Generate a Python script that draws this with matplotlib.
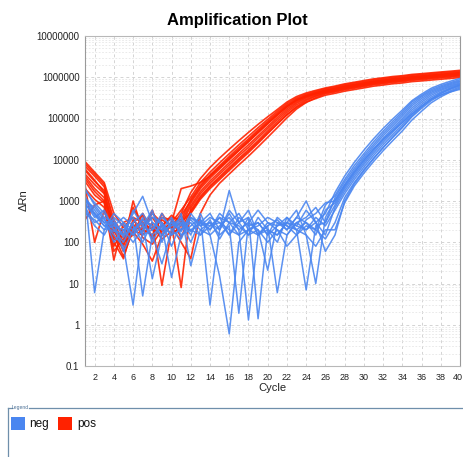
import matplotlib
matplotlib.use("Agg")
import matplotlib.pyplot as plt
from matplotlib.patches import Rectangle
from matplotlib.lines import Line2D
from matplotlib.ticker import FixedLocator, LogLocator, NullFormatter
from matplotlib.transforms import ScaledTranslation

plt.rcParams['font.family'] = ['Liberation Sans', 'DejaVu Sans']

cycles = list(range(1, 41))

# positive (red) curves, delta Rn per cycle 1..40
pos_01 = [9000, 5000, 2800, 500, 230, 400, 300, 200, 350, 250, 500, 1600, 3500, 6500, 11000, 18000, 29000, 46000, 72000, 110000, 165000, 250000, 340000, 415000, 480000, 550000, 610000, 690000, 755000, 830000, 910000, 970000, 1040000, 1090000, 1170000, 1220000, 1280000, 1340000, 1400000, 1470000]
pos_02 = [7000, 4000, 2200, 350, 150, 700, 250, 400, 180, 300, 600, 1250, 2800, 5000, 8400, 14000, 23000, 37000, 60000, 95000, 150000, 230000, 315000, 390000, 455000, 525000, 580000, 655000, 720000, 785000, 865000, 925000, 990000, 1040000, 1120000, 1160000, 1220000, 1280000, 1330000, 1400000]
pos_03 = [5500, 3000, 1800, 200, 60, 300, 450, 120, 250, 400, 350, 1100, 2400, 4300, 7200, 12000, 20000, 32000, 53000, 86000, 137000, 212000, 295000, 367000, 432000, 497000, 550000, 620000, 680000, 745000, 820000, 875000, 940000, 983000, 1060000, 1100000, 1155000, 1210000, 1265000, 1330000]
pos_04 = [4500, 2500, 1500, 150, 45, 200, 150, 300, 9, 200, 300, 900, 2000, 3600, 6000, 10000, 16600, 27000, 45000, 75000, 122000, 195000, 280000, 354000, 416000, 478000, 530000, 598000, 655000, 718000, 790000, 842000, 905000, 946000, 1020000, 1060000, 1113000, 1165000, 1217000, 1280000]
pos_05 = [4000, 2000, 1200, 120, 90, 1000, 200, 500, 300, 150, 250, 770, 1700, 3060, 5100, 8500, 14100, 23000, 38000, 64000, 106000, 172000, 252000, 330000, 400000, 460000, 510000, 575000, 630000, 690000, 760000, 810000, 870000, 910000, 980000, 1020000, 1070000, 1120000, 1170000, 1230000]
pos_06 = [3500, 1700, 1000, 37, 300, 400, 130, 90, 200, 300, 8, 680, 1500, 2700, 4500, 7500, 12500, 20000, 34000, 57000, 95000, 155000, 235000, 312000, 380000, 446000, 495000, 558000, 611000, 669000, 737000, 786000, 844000, 883000, 950000, 989000, 1038000, 1086000, 1135000, 1193000]
pos_07 = [3000, 1400, 900, 80, 200, 150, 350, 250, 120, 180, 200, 590, 1300, 2340, 3900, 6500, 10800, 17500, 29000, 50000, 84000, 140000, 215000, 290000, 360000, 428000, 474000, 535000, 586000, 642000, 707000, 753000, 809000, 846000, 911000, 949000, 995000, 1042000, 1088000, 1144000]
pos_08 = [2500, 100, 600, 100, 40, 250, 200, 150, 400, 350, 130, 500, 1100, 2000, 3300, 5500, 9100, 14900, 25000, 43000, 73000, 124000, 195000, 272000, 345000, 414000, 459000, 518000, 567000, 621000, 684000, 729000, 783000, 819000, 882000, 918000, 963000, 1008000, 1053000, 1107000]
pos_09 = [2000, 1100, 700, 60, 120, 180, 90, 35, 150, 250, 100, 40, 500, 1400, 2700, 4500, 7500, 12200, 20500, 35000, 60000, 104000, 170000, 245000, 320000, 396000, 439000, 495000, 542000, 593000, 654000, 697000, 748000, 783000, 843000, 877000, 920000, 963000, 1006000, 1058000]
pos_10 = [350, 800, 1000, 300, 100, 150, 500, 200, 250, 450, 300, 540, 1200, 2200, 3600, 6000, 10000, 16000, 27000, 45000, 75000, 122000, 185000, 250000, 305000, 368000, 408000, 460000, 504000, 552000, 608000, 648000, 696000, 728000, 784000, 816000, 856000, 896000, 936000, 984000]
pos_11 = [8000, 4500, 2500, 250, 80, 350, 180, 600, 150, 300, 2000, 2300, 2800, 4000, 6500, 10500, 17000, 28000, 46000, 75000, 120000, 190000, 270000, 345000, 408000, 470000, 520000, 587000, 643000, 704000, 775000, 826000, 887000, 928000, 1000000, 1040000, 1091000, 1142000, 1193000, 1255000]
pos_12 = [6000, 3200, 1600, 180, 130, 250, 300, 130, 500, 220, 450, 1000, 2200, 4000, 6600, 11000, 18000, 29500, 49000, 80000, 128000, 200000, 280000, 345000, 405000, 462000, 515000, 580000, 632000, 695000, 762000, 815000, 872000, 915000, 985000, 1025000, 1075000, 1125000, 1175000, 1240000]

# negative (blue) curves, delta Rn per cycle 1..40
neg_01 = [2000, 800, 400, 300, 150, 500, 1300, 300, 200, 250, 400, 180, 300, 500, 200, 1800, 300, 150, 400, 200, 150, 300, 250, 600, 300, 500, 1600, 4000, 8600, 17000, 32000, 57000, 97000, 160000, 270000, 390000, 540000, 670000, 800000, 940000]
neg_02 = [1500, 6, 200, 500, 300, 150, 250, 600, 100, 350, 200, 300, 150, 250, 400, 300, 500, 200, 150, 250, 350, 200, 400, 300, 200, 800, 1350, 3300, 7200, 14000, 27000, 49000, 85000, 143000, 250000, 360000, 500000, 620000, 740000, 870000]
neg_03 = [1200, 600, 300, 150, 80, 3, 200, 400, 300, 150, 500, 27, 200, 300, 150, 250, 1.9, 300, 200, 100, 200, 150, 300, 400, 700, 300, 1200, 2900, 6200, 12300, 23400, 43000, 75000, 128000, 225000, 335000, 465000, 580000, 700000, 815000]
neg_04 = [900, 400, 600, 200, 100, 300, 5, 150, 250, 14, 150, 250, 400, 3, 200, 500, 200, 1.3, 150, 300, 250, 400, 200, 150, 10, 400, 1050, 2500, 5500, 10900, 20700, 38000, 66000, 114000, 203000, 305000, 432000, 545000, 660000, 775000]
neg_05 = [800, 500, 250, 300, 60, 200, 300, 13, 150, 300, 250, 350, 200, 150, 15, 0.6, 100, 200, 300, 150, 400, 250, 200, 300, 150, 600, 900, 2200, 4800, 9500, 18000, 33000, 58000, 100000, 180000, 275000, 400000, 510000, 620000, 730000]
neg_06 = [700, 300, 400, 100, 200, 400, 150, 200, 500, 200, 120, 400, 300, 250, 300, 200, 150, 400, 1.4, 200, 150, 300, 200, 7, 250, 300, 800, 2000, 4300, 8500, 16200, 29700, 52000, 90000, 160000, 248000, 365000, 478000, 586000, 693000]
neg_07 = [600, 250, 150, 400, 250, 150, 400, 100, 300, 80, 300, 200, 150, 350, 120, 300, 250, 150, 200, 21, 300, 200, 400, 1000, 300, 150, 700, 1750, 3800, 7600, 14400, 26400, 46400, 80000, 143000, 222000, 330000, 440000, 550000, 657000]
neg_08 = [500, 350, 200, 250, 400, 250, 100, 300, 200, 400, 150, 200, 300, 200, 400, 150, 300, 600, 150, 250, 6, 150, 300, 200, 400, 250, 600, 1500, 3300, 6600, 12600, 23000, 40600, 70000, 126000, 198000, 300000, 405000, 510000, 620000]
neg_09 = [1000, 700, 350, 200, 150, 600, 250, 150, 30, 200, 350, 150, 500, 150, 250, 400, 200, 300, 600, 300, 200, 80, 150, 250, 200, 120, 300, 1200, 2800, 5700, 10800, 19800, 35000, 60000, 110000, 176000, 270000, 370000, 470000, 584000]
neg_10 = [1800, 900, 500, 250, 200, 100, 200, 500, 250, 150, 200, 400, 250, 400, 300, 150, 400, 250, 300, 150, 250, 300, 600, 150, 80, 200, 200, 900, 2300, 4700, 9000, 16500, 29000, 50000, 92000, 150000, 240000, 335000, 440000, 548000]
neg_11 = [1300, 500, 300, 350, 130, 300, 500, 200, 400, 250, 300, 100, 350, 200, 500, 300, 150, 200, 250, 400, 300, 250, 150, 350, 500, 900, 1000, 2400, 5000, 9800, 18000, 31000, 50000, 80000, 130000, 200000, 290000, 370000, 440000, 510000]
neg_12 = [1100, 450, 250, 180, 300, 200, 350, 250, 150, 300, 180, 500, 250, 300, 200, 600, 300, 400, 150, 200, 100, 400, 250, 200, 300, 60, 150, 1000, 2600, 5400, 10500, 19500, 35000, 62000, 115000, 190000, 295000, 410000, 530000, 650000]

pos_curves = [pos_01, pos_02, pos_03, pos_04, pos_05, pos_06, pos_07, pos_08, pos_09, pos_10, pos_11, pos_12]
neg_curves = [neg_01, neg_02, neg_03, neg_04, neg_05, neg_06, neg_07, neg_08, neg_09, neg_10, neg_11, neg_12]

x_ticks = list(range(2, 41, 2))
y_ticks = [0.1, 1, 10, 100, 1000, 10000, 100000, 1000000, 10000000]
y_tick_labels = ["0.1", "1", "10", "100", "1000", "10000", "100000", "1000000", "10000000"]
legend_labels = ["neg", "pos"]
RED = "#ff2200"
BLUE = "#4a86f0"
legend_colors = [BLUE, RED]

W, H = 463, 457
fig = plt.figure(figsize=(W / 100, H / 100), dpi=100)
ax = fig.add_axes([85 / W, 1 - 366 / H, (460 - 85) / W, (366 - 36) / H])

for c in pos_curves:
    ax.plot(cycles, c, color=RED, lw=1.2, alpha=0.9, solid_joinstyle='round')
for c in neg_curves:
    ax.plot(cycles, c, color=BLUE, lw=1.1, alpha=0.9, solid_joinstyle='round')

ax.set_yscale('log')
ax.set_xlim(1, 40)
ax.set_ylim(0.1, 10000000)
ax.xaxis.set_major_locator(FixedLocator(x_ticks))
ax.set_xticklabels([str(t) for t in x_ticks])
ax.yaxis.set_major_locator(FixedLocator(y_ticks))
ax.set_yticklabels(y_tick_labels)
ax.yaxis.set_minor_locator(LogLocator(base=10, subs=range(2, 10), numticks=20))
ax.yaxis.set_minor_formatter(NullFormatter())
ax.tick_params(axis='both', which='both', length=0, labelsize=7, colors='#222222', pad=4)
ax.tick_params(axis='x', labelsize=6.5, pad=5)
last = ax.get_xticklabels()[-1]
last.set_transform(last.get_transform() + ScaledTranslation(-2 / 100, 0, fig.dpi_scale_trans))

ax.grid(True, which='major', axis='both', color='#d4d4d4', lw=0.7, ls=(0, (3, 3)))
ax.grid(True, which='minor', axis='y', color='#e6e6e6', lw=0.6, ls=(0, (2, 2)))
ax.set_axisbelow(True)
for side, sp in ax.spines.items():
    sp.set_color('#b8b8b8')
    sp.set_linewidth(0.8)
ax.spines['left'].set_color('#9a9a9a')
ax.spines['right'].set_color('#9a9a9a')

fig.text(237 / W, 1 - 21 / H, "Amplification Plot", ha='center', va='center',
         fontsize=12, fontweight='bold', color='#000000')
fig.text(24 / W, 1 - 200 / H, "ΔRn", ha='center', va='center', rotation=90,
         fontsize=8, color='#222222')
fig.text(272 / W, 1 - 388 / H, "Cycle", ha='center', va='center', fontsize=8, color='#222222')

# legend panel
frame_col = '#6f8fab'
fig.add_artist(Line2D([8 / W, 8 / W], [1 - 408 / H, 0], color=frame_col, lw=0.9, transform=fig.transFigure))
fig.add_artist(Line2D([8 / W, 12 / W], [1 - 408 / H, 1 - 408 / H], color=frame_col, lw=0.9, transform=fig.transFigure))
fig.add_artist(Line2D([29 / W, 1.0], [1 - 408 / H, 1 - 408 / H], color=frame_col, lw=0.9, transform=fig.transFigure))
fig.text(20.5 / W, 1 - 408 / H, "Legend", ha='center', va='center', fontsize=3.6, color='#4a6f95')

sq_x = [11, 58]
txt_x = [29, 77]
for lab, col, sx, tx in zip(legend_labels, legend_colors, sq_x, txt_x):
    fig.add_artist(Rectangle((sx / W, 1 - 430 / H), 14 / W, 13 / H, facecolor=col,
                             edgecolor='none', transform=fig.transFigure))
    fig.text(tx / W, 1 - 424 / H, lab, ha='left', va='center', fontsize=8.5, color='#111111')

fig.savefig("out.png", dpi=100)
